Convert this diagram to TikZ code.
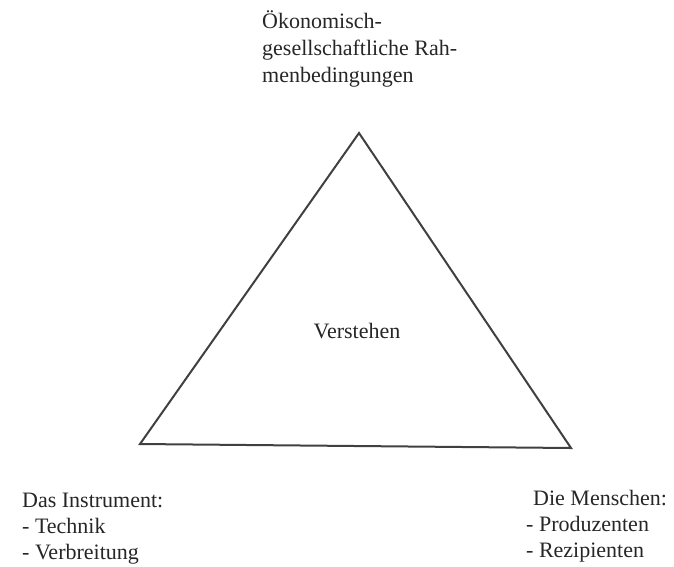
\documentclass[tikz,border=0pt]{standalone}
\usepackage{fontspec}
\setmainfont{Liberation Serif}
\begin{document}
\begin{tikzpicture}[x=1pt,y=-1pt,
  lbl/.style={anchor=base west,inner sep=0pt,font=\fontsize{22}{26}\selectfont,text=black!85},
  tri/.style={draw=black!75,line width=2pt,line join=miter}]
\useasboundingbox (0,0) rectangle (674,566);
\coordinate (A) at (359,133);
\coordinate (B) at (140,444);
\coordinate (C) at (571,448);
\draw[tri] (A) -- (B) -- (C) -- cycle;
\node[lbl] (t1) at (262,28) {Ökonomisch-};
\node[lbl] (t2) at (262,55) {gesellschaftliche Rah-};
\node[lbl] (t3) at (262,82) {menbedingungen};
\node[lbl,anchor=base] (v) at (357,338) {Verstehen};
\node[lbl] (l1) at (22,507) {Das Instrument:};
\node[lbl] (l2) at (22,533) {- Technik};
\node[lbl] (l3) at (22,559) {- Verbreitung};
\node[lbl] (r1) at (533,505) {Die Menschen:};
\node[lbl] (r2) at (526,531) {- Produzenten};
\node[lbl] (r3) at (526,557) {- Rezipienten};
\end{tikzpicture}
\end{document}
